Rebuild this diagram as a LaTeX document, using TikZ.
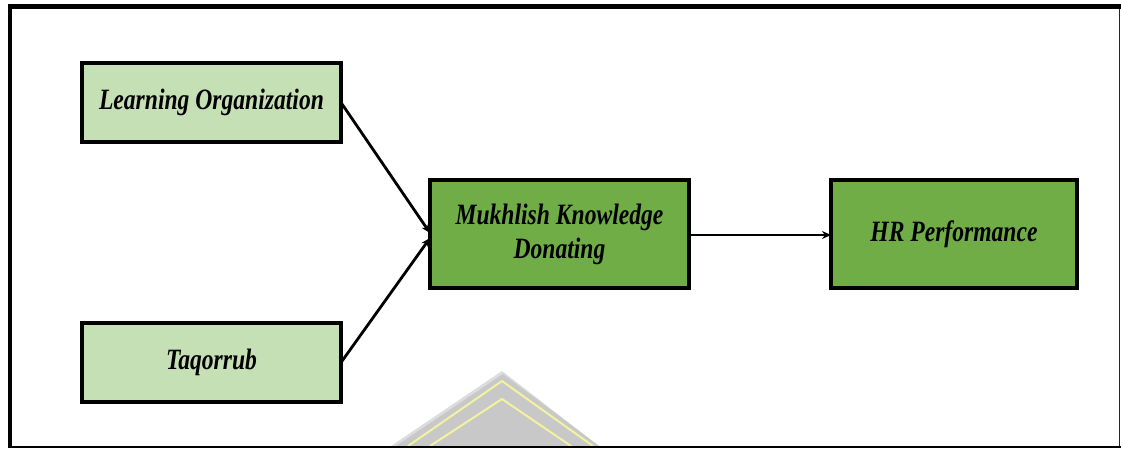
\documentclass[tikz,border=0pt]{standalone}
\usepackage{fontspec}
\newfontfamily\boxfont{Liberation Serif}[FakeStretch=0.8]
\usetikzlibrary{arrows.meta,calc}
\definecolor{lightgreen}{HTML}{C5E0B4}
\definecolor{darkgreen}{HTML}{70AD47}
\definecolor{markgray}{HTML}{C8C8C8}
\definecolor{markedge}{HTML}{DCDCDC}
\definecolor{markyellow}{HTML}{F2F2A0}
\begin{document}
\begin{tikzpicture}[x=1pt,y=-1pt,
  box/.style={draw=black, line width=4pt, inner sep=0pt, outer sep=0pt,
    minimum width=259pt, minimum height=79pt, align=center,
    font=\boxfont\bfseries\itshape\fontsize{29.5}{34}\selectfont},
  lightbox/.style={box, fill=lightgreen},
  darkbox/.style={box, fill=darkgreen, minimum height=108pt},
  link/.style={line width=2.8pt, -{Stealth[length=9pt,width=8pt]}}]
\useasboundingbox (0,0) rectangle (1121,448);
\fill[white] (0,0) rectangle (1121,448);

% faint emblem at the bottom edge
\fill[markedge] (391,446) -- (502,371) -- (599,446) -- cycle;
\fill[markgray] (396,446) -- (503,374) -- (599,446) -- cycle;
\draw[markyellow, line width=2pt] (408,446) -- (502,381) -- (593,446);
\draw[markyellow, line width=2pt] (430,446) -- (502,399) -- (571,446);

% outer frame
\draw[line width=5pt] (8,6.5) -- (1121,6.5);
\draw[line width=4pt] (10,4) -- (10,448);
\draw[line width=1.5pt, black!85] (1119.5,9) -- (1119.5,448);
\draw[line width=2pt] (12,446.5) -- (1121,446.5);

% boxes
\node[lightbox] (lo) at (211.5,102.5) {Learning Organization};
\node[lightbox] (tq) at (211.5,362.5) {Taqorrub};
\node[darkbox] (mk) at (559.5,234) {Mukhlish Knowledge\\Donating};
\node[darkbox, minimum width=246pt] (hr) at (954,234) {HR Performance};

% connectors
\draw[link] (lo.east) -- ($(mk.west)+(0,-1)$);
\draw[link] (tq.east) -- ($(mk.west)+(0,4)$);
\draw[link] ($(mk.east)+(0,1)$) -- ($(hr.west)+(0,1)$);
\end{tikzpicture}
\end{document}
